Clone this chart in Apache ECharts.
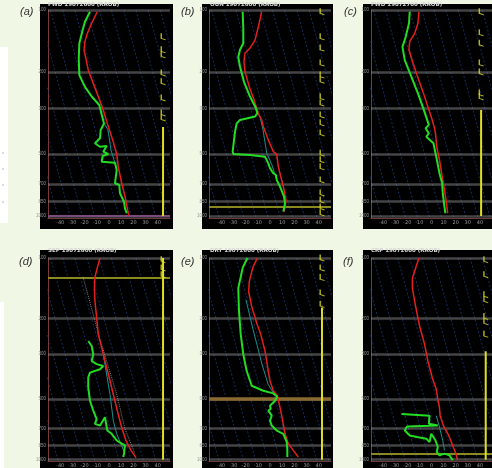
<!DOCTYPE html>
<html><head><meta charset="utf-8">
<script src="https://cdn.jsdelivr.net/npm/echarts@6/dist/echarts.min.js"></script>
<style>html,body{margin:0;padding:0;background:#f0f7e4;}#c{width:492px;height:468px;}</style>
</head><body><div id="c"></div>
<script>
// ---------- labels ----------
const panelLabels = ['(a)', '(b)', '(c)', '(d)', '(e)', '(f)'];
const panelTitles = ['FWD 19072600 (RAOB)', 'OUN 19072600 (RAOB)', 'FWD 19072700 (RAOB)',
                     'SEP 19072600 (RAOB)', 'DRT 19072600 (RAOB)', 'CRP 19072600 (RAOB)'];
const pressureLevels = [100, 200, 300, 500, 700, 850, 1000];
const isoBase = [-50, -40, -30, -20, -10, 0, 10, 20, 30, 40, 50, 60, 70, 80, 90, 100];

// ---------- data: [skewed temperature, pressure hPa] ----------
const tempA = [[-9.6,102],[-14.2,116],[-17.8,130],[-19.7,142],[-20.5,156],[-18.9,172],[-17.0,196],[-12.9,227],[-8.8,263],[-4.7,306],[-1.4,355],[3.0,427],[6.3,500],[7.6,576],[10.4,693],[13.1,805],[15.8,969],[16.6,1000]];
const dewA = [[-15.6,102],[-19.7,114],[-21.6,125],[-24.3,145],[-24.8,172],[-24.3,207],[-19.7,236],[-14.2,263],[-8.0,289],[-4.1,355],[-6.8,382],[-7.4,419],[-11.5,443],[-7.4,461],[-1.9,457],[-4.7,487],[-0.6,500],[-5.2,511],[-6.0,545],[4.9,551],[6.3,598],[4.9,693],[8.4,707],[9.0,775],[12.3,852],[13.1,917],[14.5,969]];
const tvA = [[-4.1,355],[-0.8,382],[1.6,478],[4.1,534],[6.3,598]];

const tempB = [[-6.8,102],[-9.6,121],[-12.3,140],[-16.4,153],[-20.5,162],[-21.3,178],[-20.5,199],[-17.0,236],[-13.1,273],[-9.6,317],[-6.8,342],[-5.5,368],[-1.4,427],[2.7,487],[5.5,500],[6.8,576],[8.8,644],[10.9,720],[13.1,836],[12.3,900],[11.5,952]];
const dewB = [[-22.4,102],[-21.9,123],[-21.9,145],[-24.6,156],[-26.0,169],[-24.6,188],[-21.3,223],[-16.4,263],[-11.5,300],[-10.4,317],[-12.3,329],[-24.6,342],[-27.3,355],[-28.4,382],[-29.5,427],[-30.6,487],[-30.1,500],[-16.4,505],[-4.1,515],[-1.4,555],[0,586],[2.7,620],[4.9,632],[5.5,668],[8.2,720],[11.5,805],[12.3,867],[10.9,952]];
const tvB = [[-10.4,317],[-8.2,329],[-5.7,382],[-2.7,494],[1.6,565],[5.5,668]];

const tempC = [[-10.4,102],[-11.2,116],[-13.9,130],[-18.0,142],[-18.6,156],[-15.3,181],[-12.0,207],[-7.1,249],[-3.0,295],[0.6,342],[2.5,375],[3.3,397],[4.3,461],[6.6,534],[8.8,644],[10.7,747],[12.0,836],[13.4,969]];
const dewC = [[-18.0,102],[-18.6,116],[-21.3,135],[-24.0,151],[-22.1,175],[-16.6,211],[-11.2,254],[-6.3,306],[-2.2,361],[-4.9,375],[-2.2,397],[-4.3,412],[1.6,443],[3.9,515],[6.6,620],[8.8,693],[9.3,775],[10.7,900],[11.5,969]];
const tvC = [];

const tempD = [[-7.4,100],[-9.6,112],[-11.5,124],[-12.0,141],[-11.5,164],[-10.1,198],[-8.8,239],[-6.0,278],[-3.3,324],[0.2,391],[3.5,473],[6.8,571],[9.6,664],[11.2,717],[13.9,803],[18.0,899],[22.1,977]];
const dewD = [[-17.0,258],[-14.2,273],[-12.9,300],[-14.2,324],[-10.1,336],[-4.7,343],[-7.4,356],[-15.6,370],[-17.0,391],[-17.0,438],[-15.6,510],[-12.9,571],[-10.1,628],[-11.5,664],[-7.4,677],[-3.3,616],[-1.4,717],[2.2,744],[6.3,803],[10.4,833],[13.1,849],[12.3,933],[11.7,969]];
const tvD = [[-4.7,300],[0.8,473],[3.5,640],[6.3,744],[13.1,933]];
const parcelD = [[-21.3,124],[-7.4,253],[6.3,473],[13.1,703],[21.3,933]];

const tempE = [[-10.4,100],[-14.2,112],[-17.0,131],[-17.5,147],[-15.0,174],[-10.9,210],[-7.6,239],[-4.1,289],[-1.9,349],[0,407],[2.7,455],[6.0,482],[8.2,550],[10.4,640],[12.3,744],[15.0,833],[19.1,899],[23.2,969]];
const dewE = [[-18.6,100],[-22.4,112],[-26.0,141],[-25.4,184],[-24.0,239],[-21.9,300],[-19.1,363],[-15.0,430],[-5.5,455],[2.7,469],[6.0,487],[4.1,510],[0,540],[0.6,560],[-1.4,571],[1.4,605],[0,640],[1.4,677],[5.5,717],[10.9,744],[13.7,817],[14.2,899],[14.2,969]];
const tvE = [[-19.7,161],[-13.9,226],[-6.6,336],[-1.6,422],[3.3,473]];

const tempF = [[-10.4,100],[-13.1,112],[-15.8,126],[-15.8,141],[-13.1,174],[-9.8,218],[-5.7,268],[-3.0,324],[0.6,391],[3.9,447],[5.2,500],[6.6,550],[7.1,605],[9.8,677],[14.2,758],[18.0,865],[20.2,933],[21.6,1007]];
const dewF = [[-24.8,593],[-1.6,605],[-2.2,664],[5.2,677],[-20.2,685],[-22.1,717],[-18.0,758],[-12.0,772],[-4.3,787],[-1.6,817],[-0.2,744],[3.3,803],[5.2,865],[4.3,915],[6.6,951],[10.7,933],[14.8,951],[17.5,1007]];
const tvF = [[3.9,605],[6.6,690],[9.3,803],[10.7,899]];

// wind barbs: discrete barb levels and continuous barb column [top, bottom]
const barbsA = [135,156,165,202,223,267,316,334];
const barbsB = [102,135,153,181,207,219,264,283,323,353,395,495,533,577,668,772,836,903,965];
const barbsC = [102,129,145,181,200,253,264];
const barbsD = [102,112,121];
const barbsE = [100,112,125,149,170];
const barbsF = [102,121,152,161,195,207,239];
const barbColA = [370,1000], barbColB = null, barbColC = [306,1000];
const barbColD = [100,1000], barbColE = [176,1000], barbColF = [290,1000];

// highlighted levels
const hlA = 1000, hlB = 903, hlC = null, hlD = 125, hlE = 500, hlF = 933;

// ---------- layout ----------
const panels = [
  {box:[40,4,133,225], left:48, top:10, h:208.7, max:1030, barbX:44.3, t:tempA, d:dewA, tv:tvA, barbs:barbsA, col:barbColA, hl:hlA, hlc:'#7a4a7a'},
  {box:[202,4,131,225], left:209, top:10, h:208.7, max:1030, barbX:42.6, t:tempB, d:dewB, tv:tvB, barbs:barbsB, col:barbColB, hl:hlB, hlc:'#8a8a20'},
  {box:[363,4,129,225], left:371, top:10, h:208.7, max:1030, barbX:41.0, t:tempC, d:dewC, tv:tvC, barbs:barbsC, col:barbColC, hl:hlC, hlc:'#888'},
  {box:[40,250,133,218], left:48, top:258, h:204.4, max:1015, barbX:44.3, t:tempD, d:dewD, tv:tvD, barbs:barbsD, col:barbColD, hl:hlD, hlc:'#8a8a20', parcel:parcelD},
  {box:[202,250,131,218], left:209, top:258, h:204.4, max:1015, barbX:42.6, t:tempE, d:dewE, tv:tvE, barbs:barbsE, col:barbColE, hl:hlE, hlc:'#8a6a30'},
  {box:[363,250,129,218], left:371, top:258, h:204.4, max:1015, barbX:44.8, t:tempF, d:dewF, tv:tvF, barbs:barbsF, col:barbColF, hl:hlF, hlc:'#8a8a20'}
];
const labelPos = [[20,6],[181,6],[344,6],[19,256],[181,256],[343,256]];
const ISO_SKEW = 48;
const barbPath = 'path://M0 0 L2 0 L2 9 L7 11 L7 13 L0 10 Z';

const grids = [], xAxes = [], yAxes = [], series = [], graphics = [];

graphics.push({type:'rect', shape:{x:0,y:47,width:8,height:176}, style:{fill:'#ffffff'}, z:0});
graphics.push({type:'rect', shape:{x:0,y:302,width:4,height:166}, style:{fill:'#ffffff'}, z:0});
[153,169,185,202].forEach(y => graphics.push({type:'circle', shape:{cx:3,cy:y,r:0.8}, style:{fill:'#aaa'}, z:1}));

panels.forEach((p, i) => {
  graphics.push({type:'rect', shape:{x:p.box[0],y:p.box[1],width:p.box[2],height:p.box[3]}, style:{fill:'#000000'}, z:0});
  graphics.push({type:'text', left:p.box[0]+8, top:p.box[1]-2, style:{text:panelTitles[i], fill:'#d8d8d8', font:'bold 5.5px "DejaVu Sans"'}, z:10});
  graphics.push({type:'text', left:labelPos[i][0], top:labelPos[i][1], style:{text:panelLabels[i], fill:'#333', font:'italic 11px "Liberation Sans"'}, z:10});

  grids.push({left:p.left, top:p.top, width:122, height:p.h, show:true, borderColor:'#4a2424', borderWidth:1, backgroundColor:'transparent'});
  xAxes.push({type:'value', gridIndex:i, min:-50, max:50, interval:10,
    axisLine:{show:true, onZero:false, lineStyle:{color:'#6a3a3a', width:1}}, axisTick:{show:false}, splitLine:{show:false},
    axisLabel:{fontSize:5, color:'#9a9a9a', margin:2, showMinLabel:false, showMaxLabel:false, fontFamily:'DejaVu Sans'}});
  yAxes.push({type:'log', logBase:10, gridIndex:i, min:100, max:p.max, inverse:true,
    axisLine:{show:true, onZero:false, lineStyle:{color:'#7a3a3a', width:1}}, axisTick:{show:false}, splitLine:{show:false}, axisLabel:{show:false}});

  const ax = {xAxisIndex:i, yAxisIndex:i};
  const mlData = pressureLevels.map(lv => ({yAxis:lv,
    lineStyle:{color:'rgba(150,150,150,0.45)', width:2.5, type:'solid'},
    label:{show:true, position:'start', formatter:String(lv), fontSize:4.5, color:'#999', distance:2}}));
  if (p.hl !== null) mlData.push({yAxis:p.hl, lineStyle:{color:p.hlc, width:p.hl===500?3.5:1.8, type:'solid'}, label:{show:false}});
  isoBase.forEach((t, k) => {
    const s = Object.assign({type:'line', data:[[t,1100],[t-ISO_SKEW,100]], symbol:'none', silent:true,
      lineStyle:{color:'#1d3a78', width:0.8, type:[2,2]}, z:1, animation:false}, ax);
    if (k === 0) s.markLine = {silent:true, symbol:'none', animation:false, data:mlData, z:2};
    series.push(s);
  });
  if (p.parcel) series.push(Object.assign({type:'line', data:p.parcel, symbol:'none', lineStyle:{color:'#bbbbbb', width:0.7, type:[1,1]}, z:3, animation:false}, ax));
  if (p.col) series.push(Object.assign({type:'line', data:[[p.barbX,p.col[0]],[p.barbX,p.col[1]]], symbol:'none', lineStyle:{color:'#e0e020', width:2}, z:4, animation:false}, ax));
  series.push(Object.assign({type:'scatter', data:p.barbs.map(v => [p.barbX, v]), symbol:barbPath, symbolSize:[5,7], itemStyle:{color:'#e0e020'}, z:4, animation:false}, ax));
  if (p.tv.length) series.push(Object.assign({type:'line', data:p.tv, symbol:'none', lineStyle:{color:'#1a9090', width:1}, z:5, animation:false}, ax));
  series.push(Object.assign({type:'line', data:p.t, symbol:'none', lineStyle:{color:'#e3201c', width:1.5}, z:6, animation:false}, ax));
  series.push(Object.assign({type:'line', data:p.d, symbol:'none', lineStyle:{color:'#22dd22', width:2}, z:7, animation:false}, ax));
});

const chart = echarts.init(document.getElementById('c'), null, {renderer:'canvas'});
chart.setOption({backgroundColor:'#f0f7e4', animation:false, grid:grids, xAxis:xAxes, yAxis:yAxes, series:series, graphic:graphics});
</script></body></html>
